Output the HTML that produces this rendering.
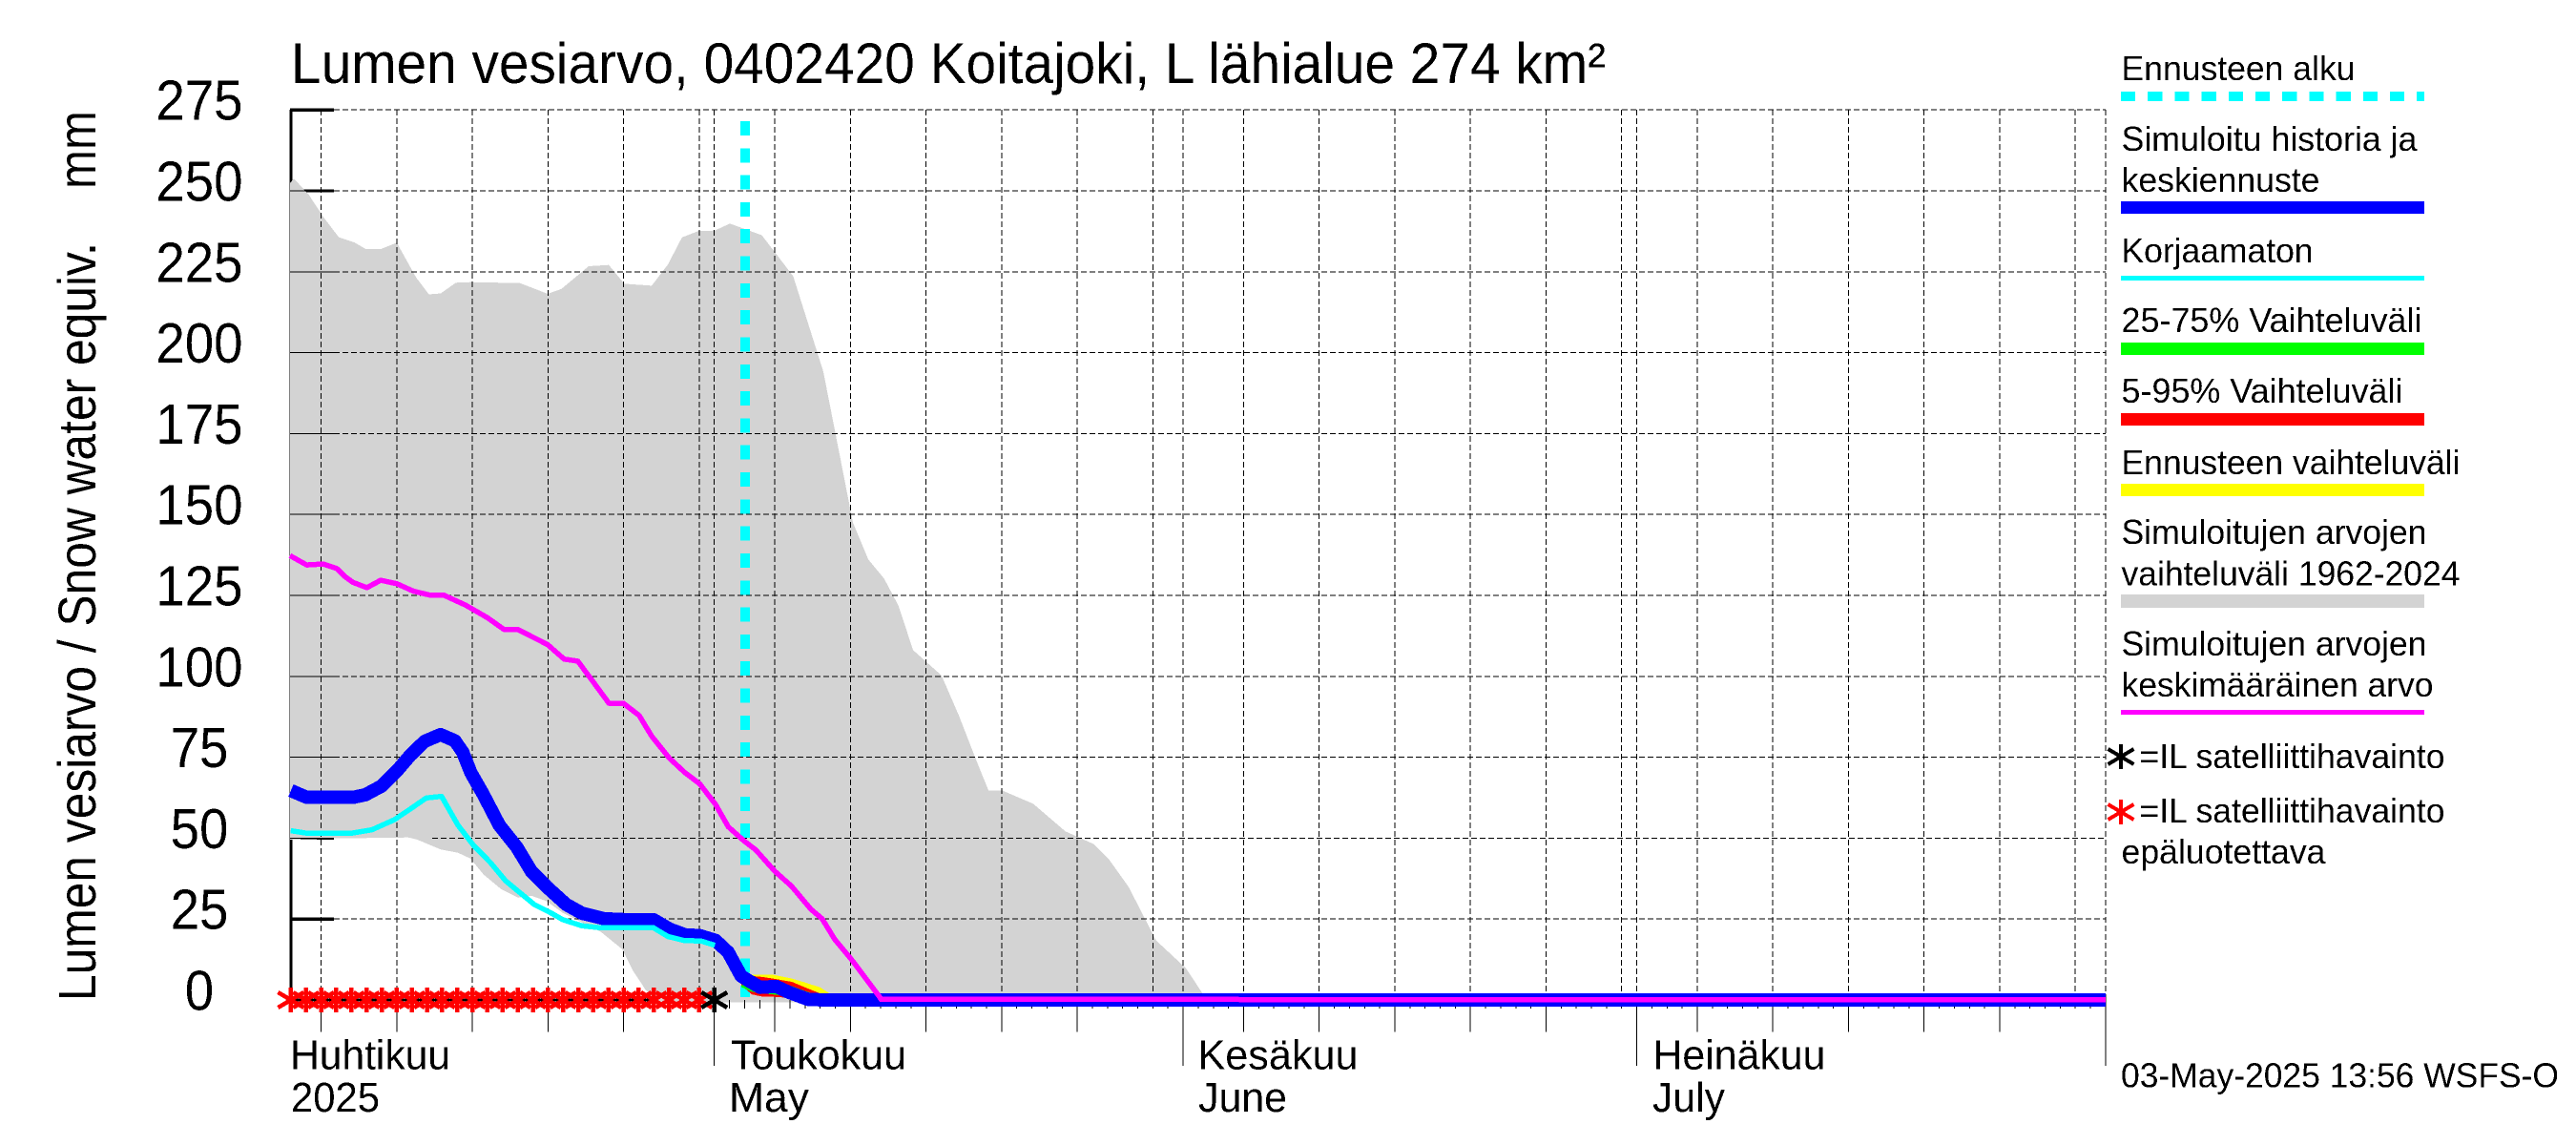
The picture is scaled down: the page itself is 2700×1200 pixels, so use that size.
<!DOCTYPE html>
<html lang="fi">
<head>
<meta charset="utf-8">
<title>Lumen vesiarvo, 0402420 Koitajoki</title>
<style>
html,body{margin:0;padding:0;background:#fff;width:2700px;height:1200px;overflow:hidden}
svg{display:block;position:absolute;left:0;top:0}
text{font-family:"Liberation Sans",sans-serif;fill:#000}
.leg{font-size:36.5px}
.mon{font-size:44px}
</style>
</head>
<body>
<svg id="chart" xmlns="http://www.w3.org/2000/svg" width="2700" height="1200" viewBox="0 0 2700 1200" shape-rendering="crispEdges">
  <defs>
    <filter id="crisp" filterUnits="userSpaceOnUse" x="0" y="0" width="2700" height="1200">
      <feComponentTransfer><feFuncA type="discrete" tableValues="0 1"/></feComponentTransfer>
    </filter>
  </defs>
  <rect x="0" y="0" width="2700" height="1200" fill="#fff"/>
  <g id="plot"></g>

  <g id="labels" filter="url(#crisp)">
    <text x="305" y="87" font-size="60" textLength="1378" lengthAdjust="spacingAndGlyphs">Lumen vesiarvo, 0402420 Koitajoki, L lähialue 274 km²</text>
    <text transform="translate(100,1049) rotate(-90)" font-size="56" textLength="795" lengthAdjust="spacingAndGlyphs">Lumen vesiarvo / Snow water equiv.</text>
    <text transform="translate(100,198) rotate(-90)" font-size="56" textLength="82" lengthAdjust="spacingAndGlyphs">mm</text>
    <g id="ytick-labels"></g>

    <text class="mon" x="304" y="1120.5" textLength="168" lengthAdjust="spacingAndGlyphs">Huhtikuu</text>
    <text class="mon" x="305" y="1165" textLength="93" lengthAdjust="spacingAndGlyphs">2025</text>
    <text class="mon" x="766" y="1120.5" textLength="184" lengthAdjust="spacingAndGlyphs">Toukokuu</text>
    <text class="mon" x="764" y="1165" textLength="84" lengthAdjust="spacingAndGlyphs">May</text>
    <text class="mon" x="1255.5" y="1120.5" textLength="168" lengthAdjust="spacingAndGlyphs">Kesäkuu</text>
    <text class="mon" x="1256" y="1165" textLength="93" lengthAdjust="spacingAndGlyphs">June</text>
    <text class="mon" x="1732.5" y="1120.5" textLength="181" lengthAdjust="spacingAndGlyphs">Heinäkuu</text>
    <text class="mon" x="1732" y="1165" textLength="76" lengthAdjust="spacingAndGlyphs">July</text>

    <text class="leg" x="2223.5" y="84" textLength="245" lengthAdjust="spacingAndGlyphs">Ennusteen alku</text>
    <text class="leg" x="2223.5" y="158" textLength="310" lengthAdjust="spacingAndGlyphs">Simuloitu historia ja</text>
    <text class="leg" x="2223.5" y="201" textLength="208" lengthAdjust="spacingAndGlyphs">keskiennuste</text>
    <text class="leg" x="2223.5" y="275" textLength="201" lengthAdjust="spacingAndGlyphs">Korjaamaton</text>
    <text class="leg" x="2223.5" y="348" textLength="315" lengthAdjust="spacingAndGlyphs">25-75% Vaihteluväli</text>
    <text class="leg" x="2223.5" y="422" textLength="295" lengthAdjust="spacingAndGlyphs">5-95% Vaihteluväli</text>
    <text class="leg" x="2223.5" y="497" textLength="355" lengthAdjust="spacingAndGlyphs">Ennusteen vaihteluväli</text>
    <text class="leg" x="2223.5" y="570" textLength="320" lengthAdjust="spacingAndGlyphs">Simuloitujen arvojen</text>
    <text class="leg" x="2223.5" y="613.5" textLength="355" lengthAdjust="spacingAndGlyphs">vaihteluväli 1962-2024</text>
    <text class="leg" x="2223.5" y="687" textLength="320" lengthAdjust="spacingAndGlyphs">Simuloitujen arvojen</text>
    <text class="leg" x="2223.5" y="730" textLength="327" lengthAdjust="spacingAndGlyphs">keskimääräinen arvo</text>
    <text class="leg" x="2242.5" y="805" textLength="320" lengthAdjust="spacingAndGlyphs">=IL satelliittihavainto</text>
    <text class="leg" x="2242.5" y="862" textLength="320" lengthAdjust="spacingAndGlyphs">=IL satelliittihavainto</text>
    <text class="leg" x="2223.5" y="905" textLength="214" lengthAdjust="spacingAndGlyphs">epäluotettava</text>
    <text class="leg" x="2223" y="1139.5" textLength="459" lengthAdjust="spacingAndGlyphs">03-May-2025 13:56 WSFS-O</text>
  </g>

  <g id="legend">
    <line x1="2223" y1="101" x2="2541" y2="101" stroke="#00ffff" stroke-width="10" stroke-dasharray="15.2 13"/>
    <rect x="2223" y="211" width="318" height="13" fill="#0000ff"/>
    <rect x="2223" y="289" width="318" height="5" fill="#00ffff"/>
    <rect x="2223" y="359" width="318" height="13" fill="#00ff00"/>
    <rect x="2223" y="433" width="318" height="13" fill="#ff0000"/>
    <rect x="2223" y="507" width="318" height="13" fill="#ffff00"/>
    <rect x="2223" y="623" width="318" height="14" fill="#d3d3d3"/>
    <rect x="2223" y="744" width="318" height="5" fill="#ff00ff"/>
    <path d="M2223 780V806M2209.500 785L2236.500 801M2209.500 801L2236.500 785" stroke="#000" stroke-width="4" fill="none"/>
    <path d="M2223 838V864M2209.500 843L2236.500 859M2209.500 859L2236.500 843" stroke="#ff0000" stroke-width="4" fill="none"/>
  </g>
</svg>

<script>
// ---- Chart data (days counted from 1 April 2025, values in mm) ----
const yTicks = [0, 25, 50, 75, 100, 125, 150, 175, 200, 225, 250, 275];
const gridDays = [4, 9, 14, 19, 24, 29, 30, 34, 39, 44, 49, 54, 59, 61, 65, 70, 75, 80, 85, 90, 91, 95, 100, 105, 110, 115, 120, 122];
const labelledTickDays = [4, 9, 14, 19, 24, 34, 39, 44, 49, 54, 65, 70, 75, 80, 85, 95, 100, 105, 110, 115];
const monthStartDays = [30, 61, 91, 122];

const rangeHighDays = [1.94, 2.2, 3.2, 4.15, 5.16, 6.23, 6.96, 7.94, 9.0, 10.27, 11.12, 11.91, 12.9, 13.91, 17.15, 18.98, 19.89, 21.69, 23.02, 24.05, 25.86, 26.93, 27.86, 28.95, 30.02, 31.03, 33.14, 35.22, 37.21, 39.17, 40.18, 41.23, 42.18, 43.14, 45.02, 46.17, 47.31, 48.13, 49.05, 51.09, 53.22, 55.11, 56.14, 57.4, 59.21, 61.19, 62.26, 62.6];
const rangeHighValues = [252.4, 253.8, 248.7, 241.9, 235.7, 234.0, 232.0, 232.0, 234.0, 223.3, 218.0, 218.3, 221.6, 221.8, 221.5, 218.2, 219.7, 226.7, 227.1, 221.3, 220.7, 227.2, 235.6, 237.6, 237.7, 239.9, 236.3, 223.6, 194.1, 147.5, 136.1, 130.2, 121.8, 108.1, 100.3, 87.9, 74.2, 64.7, 64.7, 60.6, 52.1, 48.1, 43.2, 34.9, 18.4, 9.8, 2.2, -0.7];
const rangeLowDays = [1.94, 4.85, 9.76, 10.33, 11.91, 13.05, 13.87, 14.75, 15.89, 17.02, 17.91, 18.91, 19.99, 22.51, 23.9, 24.6, 25.47, 26.3, 62.6];
const rangeLowValues = [49.5, 49.9, 50.2, 49.6, 46.5, 45.5, 43.7, 38.7, 34.3, 31.6, 32.2, 30.5, 26.9, 21.0, 15.7, 9.2, 3.0, -0.7, -0.7];

const meanDays = [1.94, 3.05, 4.13, 5.03, 5.58, 6.11, 7.03, 7.94, 9.01, 10.11, 11.19, 12.1, 13.55, 15.0, 16.08, 16.99, 18.98, 20.07, 20.97, 22.07, 23.03, 23.98, 25.03, 25.86, 27.03, 28.04, 29.03, 30.08, 30.92, 31.98, 32.73, 34.01, 35.1, 36.39, 37.13, 37.97, 39.02, 40.92, 41.02, 122];
const meanValues = [137.3, 134.4, 134.7, 133.3, 130.8, 129.0, 127.4, 129.7, 128.6, 126.3, 125.1, 125.1, 122.0, 118.1, 114.5, 114.5, 109.8, 105.3, 104.7, 97.8, 91.7, 91.7, 87.9, 81.5, 74.7, 70.3, 66.8, 60.4, 53.5, 49.1, 46.4, 39.7, 35.2, 28.0, 25.1, 18.7, 12.8, 1.0, 0.2, 0];

const simulatedDays = [2.0, 3.06, 4.0, 6.11, 6.93, 8.0, 9.05, 9.89, 10.84, 11.89, 12.84, 13.36, 13.89, 14.73, 15.78, 16.94, 17.89, 18.93, 20.2, 21.25, 22.72, 24.2, 25.98, 27.04, 28.08, 29.03, 30.08, 30.92, 31.77, 32.29, 33.03, 34.08, 34.92, 36.18, 37.23, 122];
const simulatedValues = [64.7, 62.6, 62.6, 62.6, 63.4, 66.1, 71.0, 75.6, 79.9, 82.0, 80.1, 76.6, 70.3, 63.4, 54.0, 47.2, 39.8, 34.9, 29.5, 26.8, 25.1, 24.8, 24.8, 21.9, 20.1, 19.9, 18.4, 14.7, 7.4, 5.9, 3.9, 4.2, 2.4, 0.2, 0, 0];

const uncorrectedDays = [1.99, 2.95, 6.11, 7.37, 8.84, 9.89, 10.95, 11.96, 13.05, 14.1, 15.15, 16.2, 17.26, 18.09, 19.15, 19.99, 21.25, 22.51, 24.2, 25.98, 26.93, 27.98, 29.14, 30.04];
const uncorrectedValues = [52.3, 51.6, 51.6, 52.6, 55.7, 59.0, 62.4, 62.9, 54.0, 47.6, 42.7, 36.8, 32.7, 29.5, 27.0, 24.8, 22.9, 22.3, 22.3, 22.3, 19.6, 18.4, 18.2, 16.9];

const forecastDays = [31.77, 32.49, 33.2, 33.87, 35.13, 36.0, 37.0, 38.3];
const forecastHigh = [6.0, 7.8, 7.8, 7.8, 6.6, 5.4, 3.9, 0];
const forecastLow = [4.5, 1.7, 1.0, 1.0, 0.6, 0.2, 0, 0];
const p95Values = [5.0, 7.4, 7.1, 6.6, 5.6, 3.9, 2.0, 0];
const p5Values = [4.5, 1.7, 1.0, 1.0, 0.6, 0.2, 0, 0];
const p75Values = [4.5, 5.5, 5.9, 5.4, 4.3, 2.8, 1.2, 0];
const p25Values = [4.0, 2.5, 2.0, 1.7, 1.0, 0.5, 0, 0];

const forecastStartDay = [32.04];
const unreliableObsDays = [2, 3, 4, 5, 6, 7, 8, 9, 10, 11, 12, 13, 14, 15, 16, 17, 18, 19, 20, 21, 22, 23, 24, 25, 26, 27, 28, 29];
const unreliableObsValues = [0, 0, 0, 0, 0, 0, 0, 0, 0, 0, 0, 0, 0, 0, 0, 0, 0, 0, 0, 0, 0, 0, 0, 0, 0, 0, 0, 0];
const reliableObsDays = [30];
const reliableObsValues = [0];

// ---- Axis functions ----
const dayMin = 1.94, dayMax = 122;
function xAxis(day) { return 273.2 + 15.85 * day; }
function yAxis(val) { return 1048 - 3.392 * val; }

const NS = 'http://www.w3.org/2000/svg';
const plot = document.getElementById('plot');
function mk(tag, parent, attrs) {
  const el = document.createElementNS(NS, tag);
  for (const k in attrs) el.setAttribute(k, attrs[k]);
  (parent || plot).appendChild(el);
  return el;
}
function pts(days, vals) {
  return days.map(function (d, i) { return xAxis(d).toFixed(1) + ',' + yAxis(vals[i]).toFixed(1); });
}
function band(days, hi, lo, lowDays) {
  const lower = pts(lowDays || days, lo).reverse();
  return pts(days, hi).concat(lower).join(' ');
}
function starPath(cx, cy) {
  return 'M' + cx + ' ' + (cy - 13) + 'V' + (cy + 13) +
    'M' + (cx - 13.5) + ' ' + (cy - 8) + 'L' + (cx + 13.5) + ' ' + (cy + 8) +
    'M' + (cx - 13.5) + ' ' + (cy + 8) + 'L' + (cx + 13.5) + ' ' + (cy - 8);
}

const plotLeft = xAxis(dayMin), plotRight = xAxis(dayMax);
const tickEnd = 350;

// Thick axes (beneath the grey band)
const axisY = mk('line', plot, { x1: 305, y1: yAxis(275), x2: 305, y2: yAxis(0), stroke: '#000', 'stroke-width': 3.4 });


const axisX = mk('line', plot, { x1: plotLeft, y1: yAxis(0), x2: plotRight, y2: yAxis(0), stroke: '#000', 'stroke-width': 3.4 });


yTicks.forEach(function (v) {
  const t = mk('line', plot, { x1: plotLeft, y1: yAxis(v), x2: tickEnd, y2: yAxis(v), stroke: '#000', 'stroke-width': 3.4 });
  
  
});

// Historic simulated range
const rangeBand = mk('polygon', plot, { points: band(rangeHighDays, rangeHighValues, rangeLowValues, rangeLowDays), fill: '#d3d3d3' });



// Grid
yTicks.forEach(function (v) {
  const solid = mk('line', plot, { x1: plotLeft, y1: yAxis(v), x2: tickEnd, y2: yAxis(v), stroke: '#000', 'stroke-width': 1 });
  
  
  if (v === 0) return;
  const start = v === 50 ? xAxis(11.35) : tickEnd;
  const g = mk('line', plot, { x1: start, y1: yAxis(v), x2: plotRight, y2: yAxis(v), stroke: '#000', 'stroke-width': 1, 'stroke-dasharray': '6 3' });
  
  
});
gridDays.forEach(function (d) {
  const g = mk('line', plot, { x1: xAxis(d), y1: yAxis(275), x2: xAxis(d), y2: yAxis(0), stroke: '#000', 'stroke-width': 1, 'stroke-dasharray': '6 3' });
  
  
});

// X ticks
for (let d = 2; d <= 122; d++) {
  const m = mk('line', plot, { x1: xAxis(d), y1: yAxis(0), x2: xAxis(d), y2: 1057, stroke: '#000', 'stroke-width': 1 });
  
  
}
labelledTickDays.forEach(function (d) {
  const m = mk('line', plot, { x1: xAxis(d), y1: yAxis(0), x2: xAxis(d), y2: 1081.7, stroke: '#000', 'stroke-width': 1 });
  
  
});
monthStartDays.forEach(function (d) {
  const m = mk('line', plot, { x1: xAxis(d), y1: yAxis(0), x2: xAxis(d), y2: 1117, stroke: '#000', 'stroke-width': 1 });
  
  
});

// Forecast start marker
const fcLine = mk('line', plot, { x1: xAxis(forecastStartDay[0]), y1: 127, x2: xAxis(forecastStartDay[0]), y2: 1045, stroke: '#00ffff', 'stroke-width': 10, 'stroke-dasharray': '15 13.31' });



// Forecast fans
const fanYellow = mk('polygon', plot, { points: band(forecastDays, forecastHigh, forecastLow), fill: '#ffff00' });


const fanRed = mk('polygon', plot, { points: band(forecastDays, p95Values, p5Values), fill: '#ff0000' });


const fanGreen = mk('polygon', plot, { points: band(forecastDays, p75Values, p25Values), fill: '#00ff00' });



// Lines
const simLine = mk('polyline', plot, { points: pts(simulatedDays, simulatedValues).join(' '), fill: 'none', stroke: '#0000ff', 'stroke-width': 14, 'stroke-linejoin': 'round' });


const uncLine = mk('polyline', plot, { points: pts(uncorrectedDays, uncorrectedValues).join(' '), fill: 'none', stroke: '#00ffff', 'stroke-width': 5.5, 'stroke-linejoin': 'round' });


const meanLine = mk('polyline', plot, { points: pts(meanDays, meanValues).join(' '), fill: 'none', stroke: '#ff00ff', 'stroke-width': 5.5, 'stroke-linejoin': 'round' });



// Satellite observations
unreliableObsDays.forEach(function (d, i) {
  const s = mk('path', plot, { d: starPath(xAxis(d), yAxis(unreliableObsValues[i])), fill: 'none', stroke: '#ff0000', 'stroke-width': 4.5 });
  
  
});
reliableObsDays.forEach(function (d, i) {
  const s = mk('path', plot, { d: starPath(xAxis(d), yAxis(reliableObsValues[i])), fill: 'none', stroke: '#000', 'stroke-width': 4.5 });
  
  
});

// Y tick labels
const yLabelGroup = document.getElementById('ytick-labels');
yTicks.forEach(function (v) {
  const s = String(v);
  const t = mk('text', yLabelGroup, { x: 209, y: (yAxis(v) + 10.5).toFixed(1), 'text-anchor': 'middle', 'font-size': 59, textLength: s.length * 30.4, lengthAdjust: 'spacingAndGlyphs' });
  
  
  t.textContent = s;
});
</script>
</body>
</html>
